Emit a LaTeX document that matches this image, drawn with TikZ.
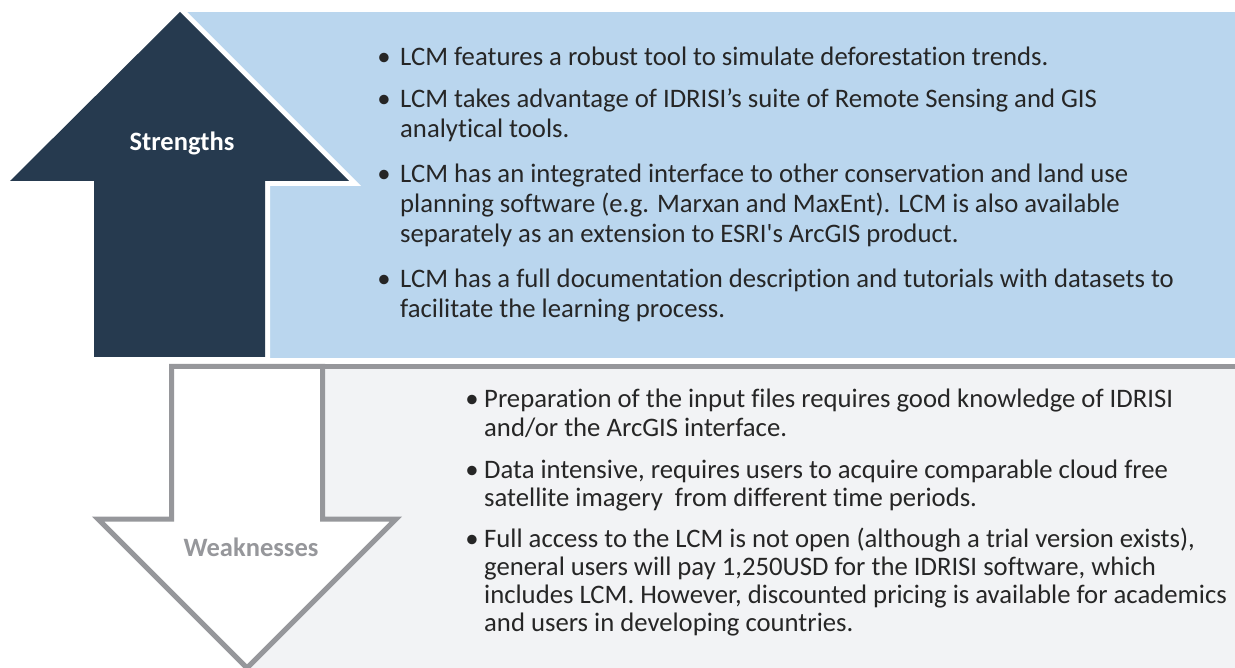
\documentclass[tikz,border=0pt]{standalone}
\usepackage{fontspec}
\setmainfont{Carlito}[Ligatures={TeX,NoCommon}]
\usepackage{textcomp}
\definecolor{navy}{HTML}{263A4F}
\definecolor{sblue}{HTML}{BAD6EE}
\definecolor{wgray}{HTML}{96979B}
\definecolor{lgray}{HTML}{F2F3F5}
\definecolor{ink}{HTML}{262626}
\begin{document}
\begin{tikzpicture}[x=1pt,y=-1pt,
  txt/.style={anchor=base west,inner sep=0pt,text=ink,font=\fontsize{26.7}{30}\selectfont},
  bul/.style={anchor=base,inner sep=0pt,text=ink,font=\fontsize{26.7}{30}\selectfont},
  lbl/.style={inner sep=0pt,font=\fontsize{26.5}{30}\selectfont\bfseries}]
\useasboundingbox (0,0) rectangle (1235,668);
% strengths panel
\fill[sblue] (180,12) rectangle (1235,358);
\draw[white,line width=10pt,line join=miter]
  (180,12) -- (349,181) -- (265,181) -- (265,357) -- (94,357) -- (94,181) -- (10,181) -- cycle;
\fill[navy] (180,12) -- (349,181) -- (265,181) -- (265,357) -- (94,357) -- (94,181) -- (10,181) -- cycle;
\node[lbl,text=white] (strengths) at (182,143) {Strengths};
% weaknesses panel
\fill[lgray] (247,366.5) rectangle (1240,675);
\draw[wgray,line width=5pt] (247,366.5) -- (1240,366.5);
\draw[wgray,fill=white,line width=5pt,line join=miter,miter limit=20]
  (171.5,366.5) -- (322.5,366.5) -- (322.5,519) -- (396,519) -- (247,668) -- (98,519) -- (171.5,519) -- cycle;
\node[lbl,text=wgray] (weak) at (251,547) {Weaknesses};
% strengths text
\node[bul] (sb1) at (384,66) {•};
\node[txt] (s1a) at (400,66) {LCM features a robust tool to simulate deforestation trends.};
\node[bul] (sb2) at (384,108) {•};
\node[txt] (s2a) at (400,108) {LCM takes advantage of IDRISI’s suite of Remote Sensing and GIS};
\node[txt] (s2b) at (400,138) {analytical tools.};
\node[bul] (sb3) at (384,183) {•};
\node[txt] (s3a) at (400,183) {LCM has an integrated interface to other conservation and land use};
\node[txt] (s3b) at (400,213) {planning software (e.g. Marxan and MaxEnt). LCM is also available};
\node[txt] (s3c) at (400,243) {separately as an extension to ESRI\textquotesingle s ArcGIS product.};
\node[bul] (sb4) at (384,288) {•};
\node[txt] (s4a) at (400,288) {LCM has a full documentation description and tutorials with datasets to};
\node[txt] (s4b) at (400,318) {facilitate the learning process.};
% weaknesses text
\node[bul] (wb1) at (472,408) {•};
\node[txt] (w1a) at (484,408) {Preparation of the input files requires good knowledge of IDRISI};
\node[txt] (w1b) at (484,436) {and/or the ArcGIS interface.};
\node[bul] (wb2) at (472,478) {•};
\node[txt] (w2a) at (484,478) {Data intensive, requires users to acquire comparable cloud free};
\node[txt] (w2b) at (484,506) {satellite imagery\ \ from different time periods.};
\node[bul] (wb3) at (472,547) {•};
\node[txt] (w3a) at (484,547) {Full access to the LCM is not open (although a trial version exists),};
\node[txt] (w3b) at (484,575) {general users will pay 1,250USD for the IDRISI software, which};
\node[txt] (w3c) at (484,603) {includes LCM. However, discounted pricing is available for academics};
\node[txt] (w3d) at (484,631) {and users in developing countries.};
\end{tikzpicture}
\end{document}
